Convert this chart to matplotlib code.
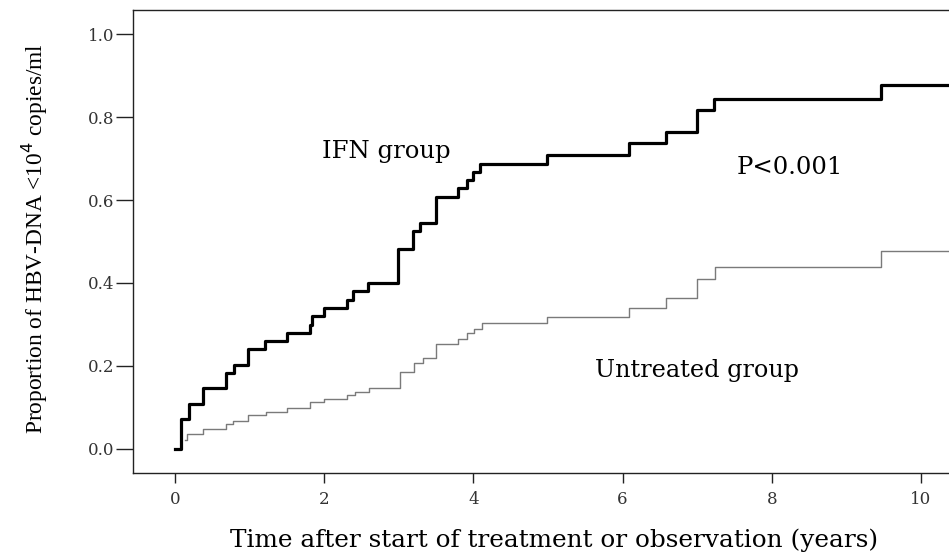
import matplotlib
matplotlib.use('Agg')
import matplotlib.pyplot as plt
import numpy as np

# Kaplan-Meier style cumulative proportions
ifn_t = [0, 0.08, 0.19, 0.38, 0.69, 0.79, 0.98, 1.21, 1.50, 1.81, 1.84, 2.00, 2.30, 2.39,
         2.59, 2.99, 3.19, 3.29, 3.50, 3.79, 3.91, 4.00, 4.09, 4.99, 6.09, 6.58, 7.00,
         7.23, 9.47, 10.5]
ifn_p = [0, 0.072, 0.108, 0.146, 0.184, 0.202, 0.240, 0.259, 0.279, 0.299, 0.320, 0.340,
         0.360, 0.381, 0.401, 0.482, 0.525, 0.545, 0.608, 0.628, 0.648, 0.668, 0.686,
         0.708, 0.737, 0.765, 0.817, 0.843, 0.877, 0.877]

untr_t = [0.14, 0.16, 0.38, 0.69, 0.78, 0.98, 1.22, 1.50, 1.81, 2.00, 2.30, 2.41, 2.60,
          3.01, 3.20, 3.32, 3.50, 3.80, 3.92, 4.01, 4.11, 4.99, 6.09, 6.58, 7.00, 7.24,
          9.47, 10.5]
untr_p = [0.022, 0.036, 0.048, 0.060, 0.068, 0.082, 0.088, 0.098, 0.112, 0.121, 0.130,
          0.138, 0.148, 0.186, 0.208, 0.218, 0.252, 0.265, 0.279, 0.289, 0.303, 0.319,
          0.339, 0.363, 0.409, 0.438, 0.477, 0.477]

x_ticks = [0, 2, 4, 6, 8, 10]
y_ticks = [0.0, 0.2, 0.4, 0.6, 0.8, 1.0]

wide = 'DejaVu Serif'
narrow = 'Liberation Serif'

fig = plt.figure(figsize=(9.49, 5.55), dpi=100)
ax = fig.add_axes([133 / 949, 1 - 473 / 555, 1 - 133 / 949, (473 - 10) / 555])

ax.step(ifn_t, ifn_p, where='post', color='black', linewidth=2.3)
ax.step(untr_t, untr_p, where='post', color='#7a7a7a', linewidth=1.0)

ax.set_xlim(-0.563, 10.375)
ax.set_ylim(-0.058, 1.058)
ax.set_xticks(x_ticks)
ax.set_xticklabels([str(v) for v in x_ticks])
ax.set_yticks(y_ticks)
ax.set_yticklabels([f'{v:.1f}' for v in y_ticks])

for s in ['left', 'top', 'bottom']:
    ax.spines[s].set_linewidth(1.0)
    ax.spines[s].set_color('#222222')
ax.spines['right'].set_visible(False)

ax.tick_params(axis='y', direction='out', length=12.5, width=1.0, pad=1,
               labelsize=12, labelcolor='#333333', color='#222222')
ax.tick_params(axis='x', direction='out', length=7, width=1.0, pad=6,
               labelsize=12, labelcolor='#333333', color='#222222')
for lab in ax.get_xticklabels() + ax.get_yticklabels():
    lab.set_family(wide)

ax.text(2.83, 0.716, 'IFN group', fontsize=17.5, family=wide, ha='center', va='center')
ax.text(8.24, 0.678, 'P<0.001', fontsize=17.5, family=wide, ha='center', va='center')
ax.text(7.0, 0.19, 'Untreated group', fontsize=17.2, family=wide, ha='center', va='center')

fig.text(35 / 949, 1 - 239 / 555, 'Proportion of HBV-DNA <10$^4$ copies/ml',
         rotation=90, fontsize=16.8, family=narrow, ha='center', va='center')
fig.text(554 / 949, 1 - 540 / 555,
         'Time after start of treatment or observation (years)',
         fontsize=17.8, family=wide, ha='center', va='center')

fig.savefig('out.png', dpi=100)
